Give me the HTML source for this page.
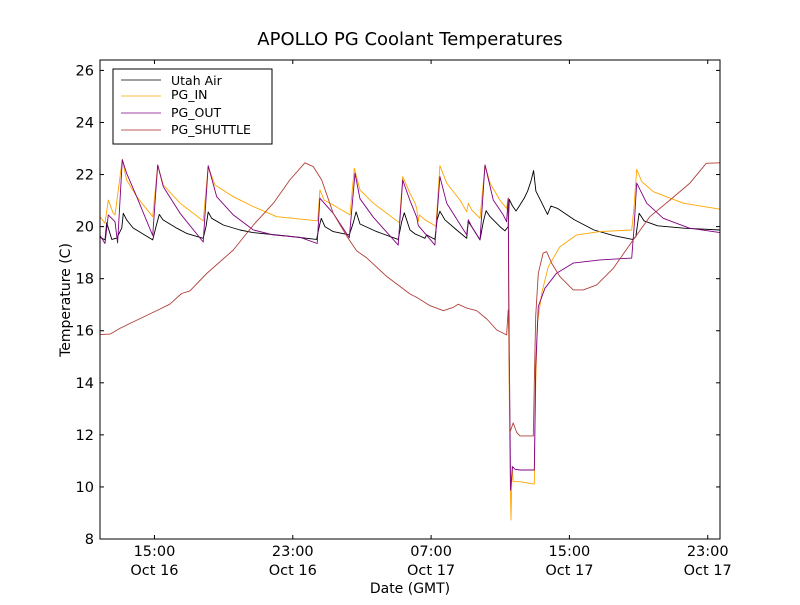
<!DOCTYPE html>
<html><head><meta charset="utf-8"><style>
body{margin:0;background:#fff;}
svg text{font-family:"DejaVu Sans","Liberation Sans",sans-serif;}
</style></head><body>
<svg id="chart" width="800" height="600" xmlns="http://www.w3.org/2000/svg">
<rect width="800" height="600" fill="#fff"/>
<text x="410" y="45" font-size="18" text-anchor="middle">APOLLO PG Coolant Temperatures</text>
<g id="plot"></g>
<rect x="100" y="60" width="620" height="479" fill="none" stroke="#000" stroke-width="1"/>
<g id="axes"></g>
<text x="410" y="593" font-size="14" text-anchor="middle">Date (GMT)</text>
<text x="70" y="300" font-size="14" text-anchor="middle" transform="rotate(-90 70 300)">Temperature (C)</text>
<g>
<rect x="113" y="69" width="159" height="75" fill="#fff" stroke="#000" stroke-width="1"/>
<g><line x1="121" y1="80" x2="161" y2="80" stroke="#000" stroke-width="0.8"/><text x="171" y="85" font-size="12.5">Utah Air</text></g>
<g><line x1="121" y1="96" x2="161" y2="96" stroke="#FFA500" stroke-width="0.8"/><text x="171" y="99" font-size="12.5">PG_IN</text></g>
<g><line x1="121" y1="113" x2="161" y2="113" stroke="#800080" stroke-width="0.8"/><text x="171" y="117" font-size="12.5">PG_OUT</text></g>
<g><line x1="121" y1="130" x2="161" y2="130" stroke="#A52A2A" stroke-width="0.8"/><text x="171" y="134" font-size="12.5">PG_SHUTTLE</text></g>
</g>
</svg>
<script>
// hours since axis start (11:51 Oct 16 GMT)
const xTickHours = [3.15, 11.15, 19.15, 27.15, 35.15];
const xTickTimes = ["15:00","23:00","07:00","15:00","23:00"];
const xTickDates = ["Oct 16","Oct 16","Oct 17","Oct 17","Oct 17"];
const yTicks = [8,10,12,14,16,18,20,22,24,26];

const airT = [0,0.29,0.39,0.68,0.97,1.26,1.35,1.54,1.91,3.05,3.24,3.43,3.64,4.44,5.01,5.97,6.13,6.26,6.46,7.13,8.1,8.85,10.8,12.53,12.68,12.8,13.01,13.49,14.42,14.65,14.81,15.04,16.0,17.25,17.45,17.6,17.93,18.22,18.5,18.79,18.89,19.37,19.5,19.66,19.95,20.63,21.21,21.3,21.5,21.98,22.17,22.33,22.56,23.13,23.42,23.61,23.67,23.86,24.06,24.25,24.54,24.73,24.92,25.08,25.21,25.5,25.88,26.08,26.46,27.42,28.57,29.73,30.8,30.99,31.18,31.47,32.25,33.79,35.86];
const airV = [19.59,19.49,20.15,19.51,19.56,19.95,20.51,20.26,19.95,19.49,20.0,20.47,20.26,19.94,19.74,19.55,20.0,20.56,20.32,20.06,19.87,19.77,19.64,19.51,20.0,20.32,20.0,19.81,19.68,20.15,20.57,20.1,19.81,19.51,20.19,20.53,19.87,19.72,19.64,19.55,19.68,19.51,20.26,20.59,20.26,19.87,19.55,20.19,20.0,19.49,20.19,20.61,20.38,20.0,19.84,20.0,21.05,20.79,20.6,20.79,21.1,21.36,21.74,22.15,21.36,20.98,20.47,20.79,20.7,20.27,19.87,19.65,19.51,19.61,20.51,20.22,20.03,19.94,19.87];

const inT = [0,0.29,0.48,0.77,0.87,1.06,1.29,1.54,2.12,3.05,3.34,3.66,4.63,5.97,6.26,6.65,7.71,8.87,10.22,11.57,12.59,12.72,12.96,13.49,14.46,14.71,15.04,15.81,17.31,17.51,17.93,18.22,18.32,18.41,18.47,18.8,19.43,19.66,20.05,20.82,21.21,21.3,21.5,21.98,22.27,22.56,23.13,23.52,23.61,23.65,23.71,23.77,23.83,23.9,24.29,25.12,25.2,25.3,25.55,25.93,26.6,27.57,28.92,30.75,30.88,31.04,31.33,32.0,33.74,35.86];
const inV = [20.38,20.13,21.02,20.51,20.45,21.41,22.59,21.79,21.15,20.38,22.37,21.6,20.9,20.22,22.3,21.6,21.15,20.77,20.38,20.29,20.22,21.41,21.02,20.83,20.45,22.24,21.41,20.9,20.15,21.92,21.28,20.9,20.7,20.19,20.45,20.26,20.02,22.34,21.67,21.02,20.57,20.9,20.64,20.32,22.37,21.67,21.02,20.7,21.09,15.26,10.78,8.73,10.78,10.2,10.2,10.11,13.98,16.29,17.44,18.46,19.23,19.68,19.81,19.87,20.7,22.2,21.73,21.34,20.9,20.67];

const outT = [0,0.29,0.48,0.87,1.02,1.29,1.54,2.12,3.05,3.34,3.66,4.63,5.97,6.26,6.75,7.71,8.87,10.03,11.57,12.56,12.72,13.49,14.42,14.75,15.04,15.81,17.25,17.51,17.93,18.32,18.41,19.37,19.66,20.05,21.21,21.3,21.5,21.98,22.27,22.75,23.32,23.52,23.61,23.65,23.75,23.86,24.0,24.29,25.12,25.2,25.35,25.73,26.41,27.37,28.92,30.75,30.88,31.04,31.62,32.58,34.1,35.86];
const outV = [19.66,19.35,20.45,20.19,19.37,22.57,22.05,21.15,19.66,22.37,21.53,20.51,19.41,22.34,21.15,20.45,19.87,19.68,19.59,19.35,21.09,20.51,19.57,22.05,21.07,20.36,19.29,21.79,21.0,20.36,20.04,19.29,21.92,20.9,19.68,20.26,20.0,19.49,22.37,21.02,20.45,20.19,21.09,16.87,9.88,10.78,10.68,10.65,10.65,14.62,16.93,17.63,18.21,18.6,18.72,18.79,19.87,21.67,20.9,20.32,19.94,19.77];

const shT = [0,0.58,1.15,1.92,3.46,4.04,4.72,5.2,6.17,7.71,8.87,10.03,10.98,11.85,12.34,12.82,13.49,14.26,14.84,15.42,16.56,17.93,18.32,19.09,19.86,20.44,20.72,21.21,21.79,22.37,22.95,23.52,23.61,23.65,23.71,23.9,24.1,24.29,25.06,25.12,25.2,25.35,25.63,25.83,26.12,26.6,27.37,27.95,28.73,29.69,30.84,31.8,32.96,34.1,35.07,35.86];
const shV = [15.85,15.87,16.09,16.34,16.83,17.02,17.43,17.53,18.2,19.1,20.06,20.9,21.79,22.45,22.3,21.79,20.51,19.65,19.07,18.8,18.1,17.41,17.28,16.96,16.77,16.9,17.02,16.87,16.77,16.45,16.03,15.84,16.8,15.78,12.09,12.46,12.09,11.96,11.96,14.0,16.56,18.21,18.98,19.04,18.6,18.08,17.57,17.57,17.76,18.4,19.49,20.38,21.02,21.66,22.43,22.45];

const X0=100, X1=720, Y0=539, Y1=60, HMAX=35.86, VMIN=8, VMAX=26.4;
function xs(h){return X0+(h/HMAX)*(X1-X0);}
function ys(v){return Y0-(v-VMIN)/(VMAX-VMIN)*(Y0-Y1);}
const NS="http://www.w3.org/2000/svg";
const plot=document.getElementById('plot');
function series(T,V,color,name){
  const p=document.createElementNS(NS,'polyline');
  p.setAttribute('points',T.map((t,i)=>xs(t).toFixed(1)+','+ys(V[i]).toFixed(1)).join(' '));
  p.setAttribute('fill','none');p.setAttribute('stroke',color);p.setAttribute('stroke-width','0.9');
  p.setAttribute('stroke-linejoin','round');
  
  
  plot.appendChild(p);
}
series(airT,airV,'#000','series-utah-air');
series(inT,inV,'#FFA500','series-pg-in');
series(outT,outV,'#800080','series-pg-out');
series(shT,shV,'#B0403A','series-pg-shuttle');

const axes=document.getElementById('axes');
function el(tag,attrs,txt){const e=document.createElementNS(NS,tag);for(const k in attrs)e.setAttribute(k,attrs[k]);if(txt!==undefined)e.textContent=txt;axes.appendChild(e);return e;}
yTicks.forEach(v=>{
  const y=ys(v);
  el('line',{x1:X0,y1:y,x2:X0+4,y2:y,stroke:'#000'});
  el('line',{x1:X1,y1:y,x2:X1-4,y2:y,stroke:'#000'});
  const t=el('text',{x:94,y:y+5,'font-size':14.5,'text-anchor':'end'},String(v));
  
  
});
xTickHours.forEach((h,i)=>{
  const x=xs(h);
  el('line',{x1:x,y1:Y0,x2:x,y2:Y0-4,stroke:'#000'});
  el('line',{x1:x,y1:Y1,x2:x,y2:Y1+4,stroke:'#000'});
  const t1=el('text',{x:x,y:556,'font-size':14.5,'text-anchor':'middle'},xTickTimes[i]);
  
  
  const t2=el('text',{x:x,y:575,'font-size':14.5,'text-anchor':'middle'},xTickDates[i]);
  
  
});
</script>
</body></html>
